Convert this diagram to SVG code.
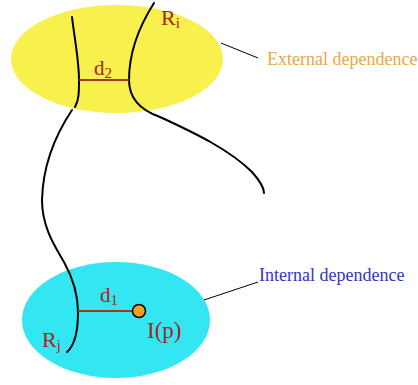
<svg xmlns="http://www.w3.org/2000/svg" width="418" height="385" viewBox="0 0 418 385">
<style>
.t{font-family:"Liberation Serif","Times New Roman",serif;fill:#a8241c}
.sub{font-size:15px}
.curve{fill:none;stroke:#000;stroke-width:2;stroke-linecap:round}
.lead{fill:none;stroke:#000;stroke-width:1}
.dist{stroke:#a03a1a;stroke-width:2}
.lbl{font-family:"Liberation Serif","Times New Roman",serif;font-size:18px}
</style>
<rect width="418" height="385" fill="#fff"/>
<g id="region-i">
<ellipse cx="117" cy="59" rx="106" ry="54" fill="#f8f04c"/>
</g>
<g id="region-j">
<ellipse cx="116" cy="320" rx="94" ry="58" fill="#34e6f2"/>
</g>
<g id="connectors">
<path class="curve" d="M72,17 C74,35 79,60 79,80 C79,92 79,100 75,107"/>
<path class="curve" d="M72,110 C60,128 43,160 42,200 C42,228 56,248 64,262 C74,280 78,295 78,312 C78,330 75,345 67,352"/>
<path class="curve" d="M154,3 C140,25 129,50 129,80 C129,98 140,110 160,117 C195,133 230,150 252,172 C260,181 264,188 264,193"/>
<line class="dist" x1="79" y1="80" x2="129" y2="80"/>
<line class="dist" x1="78" y1="311" x2="135" y2="311"/>
<line class="lead" x1="221" y1="43" x2="258" y2="58"/>
<line class="lead" x1="204" y1="300" x2="258" y2="282"/>
</g>
<g id="point-p">
<circle cx="139" cy="311" r="6.5" fill="#f4a020" stroke="#000" stroke-width="1.5"/>
</g>
<g id="labels">
<text class="t" x="161" y="25" font-size="22">R<tspan class="sub" dy="3">i</tspan></text>
<text class="t" x="94" y="75" font-size="21">d<tspan class="sub" dy="3">2</tspan></text>
<text class="t" x="100" y="302" font-size="21">d<tspan class="sub" dy="3">1</tspan></text>
<text class="t" x="147" y="338" font-size="23">I(p)</text>
<text class="t" x="42" y="347" font-size="22">R<tspan class="sub" dy="3">j</tspan></text>
<text class="lbl" x="267" y="65" fill="#eaa848">External dependence</text>
<text class="lbl" x="259" y="281" fill="#3434c4">Internal dependence</text>
</g>
</svg>
